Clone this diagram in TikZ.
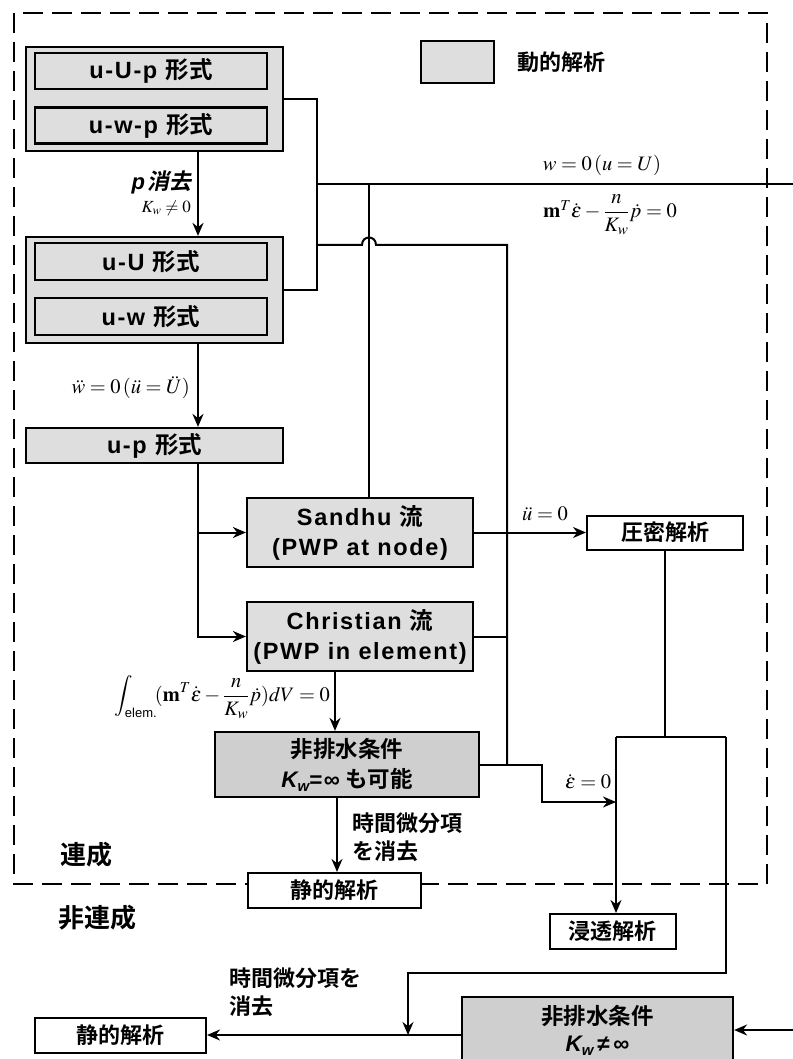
\documentclass[tikz,border=0pt]{standalone}
\usepackage{mathptmx}
\usepackage[no-math]{fontspec}
\setmainfont{Liberation Sans}
\newfontfamily\jp{Noto Sans CJK JP Bold}
\newfontfamily\jpi[FakeSlant=0.2]{Noto Sans CJK JP Bold}
\newfontfamily\bx[LetterSpace=7]{Liberation Sans Bold}
\newfontfamily\bxi[LetterSpace=2]{Liberation Sans Bold Italic}
\newcommand\J[1]{{\jp #1}}
\usetikzlibrary{arrows.meta}
\tikzset{
  shbox/.style={draw, line width=2.2pt, fill=black!13, inner sep=0pt, align=center,
    font=\bx\fontsize{23.5}{30}\selectfont},
  dkbox/.style={shbox, fill=black!19},
  wbox/.style={draw, line width=2pt, fill=white, inner sep=0pt,
    font=\jp\fontsize{22}{26}\selectfont},
  conn/.style={line width=2pt},
  arr/.style={line width=2pt, -{Stealth[length=13pt,width=11pt]}},
  lbl/.style={inner sep=0pt, align=left, font=\jp\fontsize{22}{28}\selectfont},
  biglbl/.style={inner sep=0pt, font=\jp\fontsize{26}{30}\selectfont},
  mlbl/.style={inner sep=0pt, font=\fontsize{20.5}{24}\selectfont},
  border/.style={line width=2pt, dash pattern=on 20pt off 9pt},
}
\begin{document}
\begin{tikzpicture}[x=1pt,y=-1pt]
\useasboundingbox (0,0) rectangle (792,1059);
% coupled region border
\draw[border] (14,13) rectangle (767,884);

% column coordinates
\coordinate (cA) at (198,0);
\coordinate (c335) at (335,0);
\coordinate (c337) at (337,0);
\coordinate (c369) at (369,0);
\coordinate (j1) at (317,184);
\coordinate (j2) at (317,245);
\coordinate (h1) at (362,245);
\coordinate (h2) at (376,245);
\coordinate (k1) at (507,245);
\coordinate (e1) at (795,184);
\coordinate (m1) at (542,802);
\coordinate (r1) at (616,802);
\coordinate (t1) at (616,737);
\coordinate (t2) at (726,737);
\coordinate (t3) at (726,973);
\coordinate (t4) at (408,973);
\coordinate (e2) at (795,1030);

% legend
\node[shbox, minimum width=73pt, minimum height=42pt] (leg) at (457.5,62) {};
\node[lbl, anchor=west] (legt) at (517,62) {動的解析};

% top group
\node[shbox, minimum width=257pt, minimum height=104pt] (outer1) at (154.5,99) {};
\node[shbox, minimum width=232pt, minimum height=36pt] (in1a) at (151,71) {u-U-p \J{形式}};
\node[shbox, minimum width=232pt, minimum height=36pt] (in1b) at (151,125.5) {u-w-p \J{形式}};

\node[shbox, minimum width=257pt, minimum height=106pt] (outer2) at (154.5,290) {};
\node[shbox, minimum width=232pt, minimum height=37pt] (in2a) at (151,261.5) {u-U \J{形式}};
\node[shbox, minimum width=232pt, minimum height=37pt] (in2b) at (151,316.5) {u-w \J{形式}};

\node[shbox, minimum width=257pt, minimum height=35pt] (up) at (154.5,445.5) {u-p \J{形式}};

\node[shbox, minimum width=226pt, minimum height=69pt] (sandhu) at (360,532.5) {Sandhu \J{流}\\(PWP at node)};
\node[shbox, minimum width=226pt, minimum height=69pt] (christian) at (360,636.5) {Christian \J{流}\\(PWP in element)};
\node[dkbox, minimum width=264pt, minimum height=65pt, font=\jp\fontsize{22.5}{30}\selectfont] (undr) at (347,764.5)
  {非排水条件\\{\bxi K\raisebox{-0.35ex}{\fontsize{15}{15}\selectfont w}}{\bx =∞} も可能};

\node[wbox, minimum width=156pt, minimum height=34pt] (press) at (665,532.5) {圧密解析};
\node[wbox, minimum width=173pt, minimum height=35pt] (static1) at (334.5,890.5) {静的解析};
\node[wbox, minimum width=126pt, minimum height=35pt] (seep) at (612.5,931.5) {浸透解析};
\node[wbox, minimum width=171pt, minimum height=35pt] (static2) at (120.5,1035) {静的解析};
\node[dkbox, minimum width=271pt, minimum height=66pt, font=\jp\fontsize{22.5}{27}\selectfont] (undr2) at (597.5,1030)
  {非排水条件\\{\bxi K\raisebox{-0.35ex}{\fontsize{15}{15}\selectfont w}}{\bx\,≠\,∞}};

% region labels
\node[biglbl] (coupled) at (86,855) {連成};
\node[biglbl] (uncoupled) at (97,918) {非連成};

% connectors: top
\draw[conn] (outer1.east) -| (j1) |- (outer2.east);
\draw[conn] (j1) -- (e1);
\draw[conn] (j1 -| c369) -- (sandhu.north -| c369);
\draw[conn] (j2) -- (h1) .. controls (362,235) and (376,235) .. (h2) -- (k1) -- (k1 |- undr.east);
\draw[conn] (christian.east) -- (christian.east -| k1);

\draw[arr] (outer1.south -| cA) -- (outer2.north -| cA);
\draw[arr] (outer2.south -| cA) -- (up.north -| cA);
\draw[arr] (up.south -| cA) |- (sandhu.west);
\draw[arr] (up.south -| cA) |- (christian.west);
\draw[arr] (sandhu.east) -- (press.west);
\draw[arr] (christian.south -| c335) -- (undr.north -| c335);
\draw[arr] (undr.south -| c337) -- (static1.north -| c337);
\draw[arr] (undr.east) -| (m1) -- (r1);

\draw[conn] (press.south) -- (press.south |- t1);
\draw[conn] (t1) -- (t2);
\draw[arr] (t1) -- (seep.north -| t1);
\draw[arr] (t2) -- (t3) -- (t4) -- (t4 |- static2.east);
\draw[arr] (static2.east -| undr2.west) -- (static2.east);
\draw[arr] (e2) -- (undr2.east);

% labels
\node[inner sep=0pt, anchor=east] (lp) at (192,182) {{\bxi\fontsize{22}{26}\selectfont p} {\jpi\fontsize{22}{26}\selectfont 消去}};
\node[mlbl, anchor=east, font=\fontsize{17}{20}\selectfont] (lkw) at (191,208) {$K_w\neq 0$};
\node[mlbl, anchor=east] (lwdd) at (190,388) {$\ddot w=0\,(\ddot u=\ddot U)$};
\node[mlbl] (lw0) at (602,165) {$w=0\,(u=U)$};
\node[mlbl] (lm) at (610,215) {$\mathbf m^{T}\dot\varepsilon-\displaystyle\frac{n}{K_w}\dot p=0$};
\node[mlbl] (lud) at (545,514) {$\ddot u=0$};
\node[mlbl] (led) at (588,782) {$\dot\varepsilon=0$};
\node[mlbl, anchor=east] (lint) at (330,697) {$\displaystyle\int_{\mbox{\fontsize{13}{13}\selectfont elem.}}\!(\mathbf m^{T}\dot\varepsilon-\frac{n}{K_w}\dot p)dV=0$};
\node[lbl, anchor=north west] (lt1) at (352,813) {時間微分項\\を消去};
\node[lbl, anchor=north west] (lt2) at (229,968) {時間微分項を\\消去};
\end{tikzpicture}
\end{document}
